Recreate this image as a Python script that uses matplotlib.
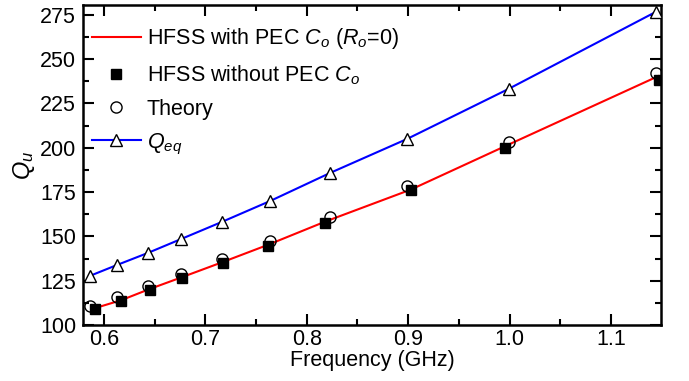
import numpy as np
import matplotlib
matplotlib.use('Agg')
import matplotlib.pyplot as plt
from matplotlib.ticker import MultipleLocator

plt.rcParams['font.family'] = ['Liberation Sans', 'DejaVu Sans']
plt.rcParams['mathtext.fontset'] = 'custom'
plt.rcParams['mathtext.rm'] = 'Liberation Sans'
plt.rcParams['mathtext.it'] = 'Liberation Sans:italic'

# frequencies (GHz)
f_theory = [0.586, 0.613, 0.643, 0.676, 0.716, 0.764, 0.823, 0.899, 0.999, 1.144]
f_hfss = [0.591, 0.617, 0.645, 0.677, 0.717, 0.762, 0.818, 0.903, 0.996, 1.147]

# Q values
q_pec = [109.5, 114.0, 120.3, 127.0, 135.5, 145.3, 158.3, 176.5, 201.0, 240.5]
q_nopec = [109.0, 113.5, 119.8, 126.5, 135.0, 144.6, 157.6, 176.2, 199.9, 238.3]
q_theory = [110.7, 115.8, 122.0, 128.8, 137.2, 147.4, 160.9, 178.4, 203.3, 242.2]
q_eq = [127.7, 133.9, 140.6, 148.5, 158.1, 170.0, 185.8, 205.0, 233.2, 276.6]

fs = 15.5

fig = plt.figure(figsize=(6.89, 3.81), dpi=100)
ax = fig.add_axes([0.1205, 0.147, 0.839, 0.840])

ax.plot(f_hfss, q_pec, color='red', lw=1.5, label='HFSS with PEC $C_o$ ($R_o$=0)', zorder=2)
ax.plot(f_hfss, q_nopec, ls='none', marker='s', ms=7, color='black',
        label='HFSS without PEC $C_o$', zorder=4)
ax.plot(f_theory, q_theory, ls='none', marker='o', ms=8, mfc='none', mec='black',
        mew=1.0, label='Theory', zorder=3)
ax.plot(f_theory, q_eq, color='blue', lw=1.5, marker='^', ms=9, mfc='white',
        mec='black', mew=1.0, label='$Q_{eq}$', zorder=3)

ax.set_xlim(0.5793, 1.1495)
ax.set_ylim(100, 280.6)
ax.xaxis.set_minor_locator(MultipleLocator(0.05))
ax.yaxis.set_major_locator(MultipleLocator(25))
ax.yaxis.set_minor_locator(MultipleLocator(12.5))
ax.set_xticks([0.6, 0.7, 0.8, 0.9, 1.0, 1.1])
ax.set_xticklabels(['0.6', '0.7', '0.8', '0.9', '1.0', '1.1'])

ax.tick_params(which='both', direction='in', top=True, right=True, width=1.5, labelsize=fs)
ax.tick_params(which='major', length=8, pad=5)
ax.tick_params(axis='x', which='major', pad=3)
ax.tick_params(which='minor', length=4.5)
for s in ax.spines.values():
    s.set_linewidth(1.8)

ax.set_xlabel('Frequency (GHz)', fontsize=fs, labelpad=0)
ax.set_ylabel('$Q_u$', fontsize=17, labelpad=2)

ax.legend(loc='upper left', frameon=False, fontsize=fs, handlelength=2.3,
          labelspacing=0.55, handletextpad=0.25, borderaxespad=0.0,
          bbox_to_anchor=(0.0, 0.96))

fig.savefig('out.png', dpi=100)
